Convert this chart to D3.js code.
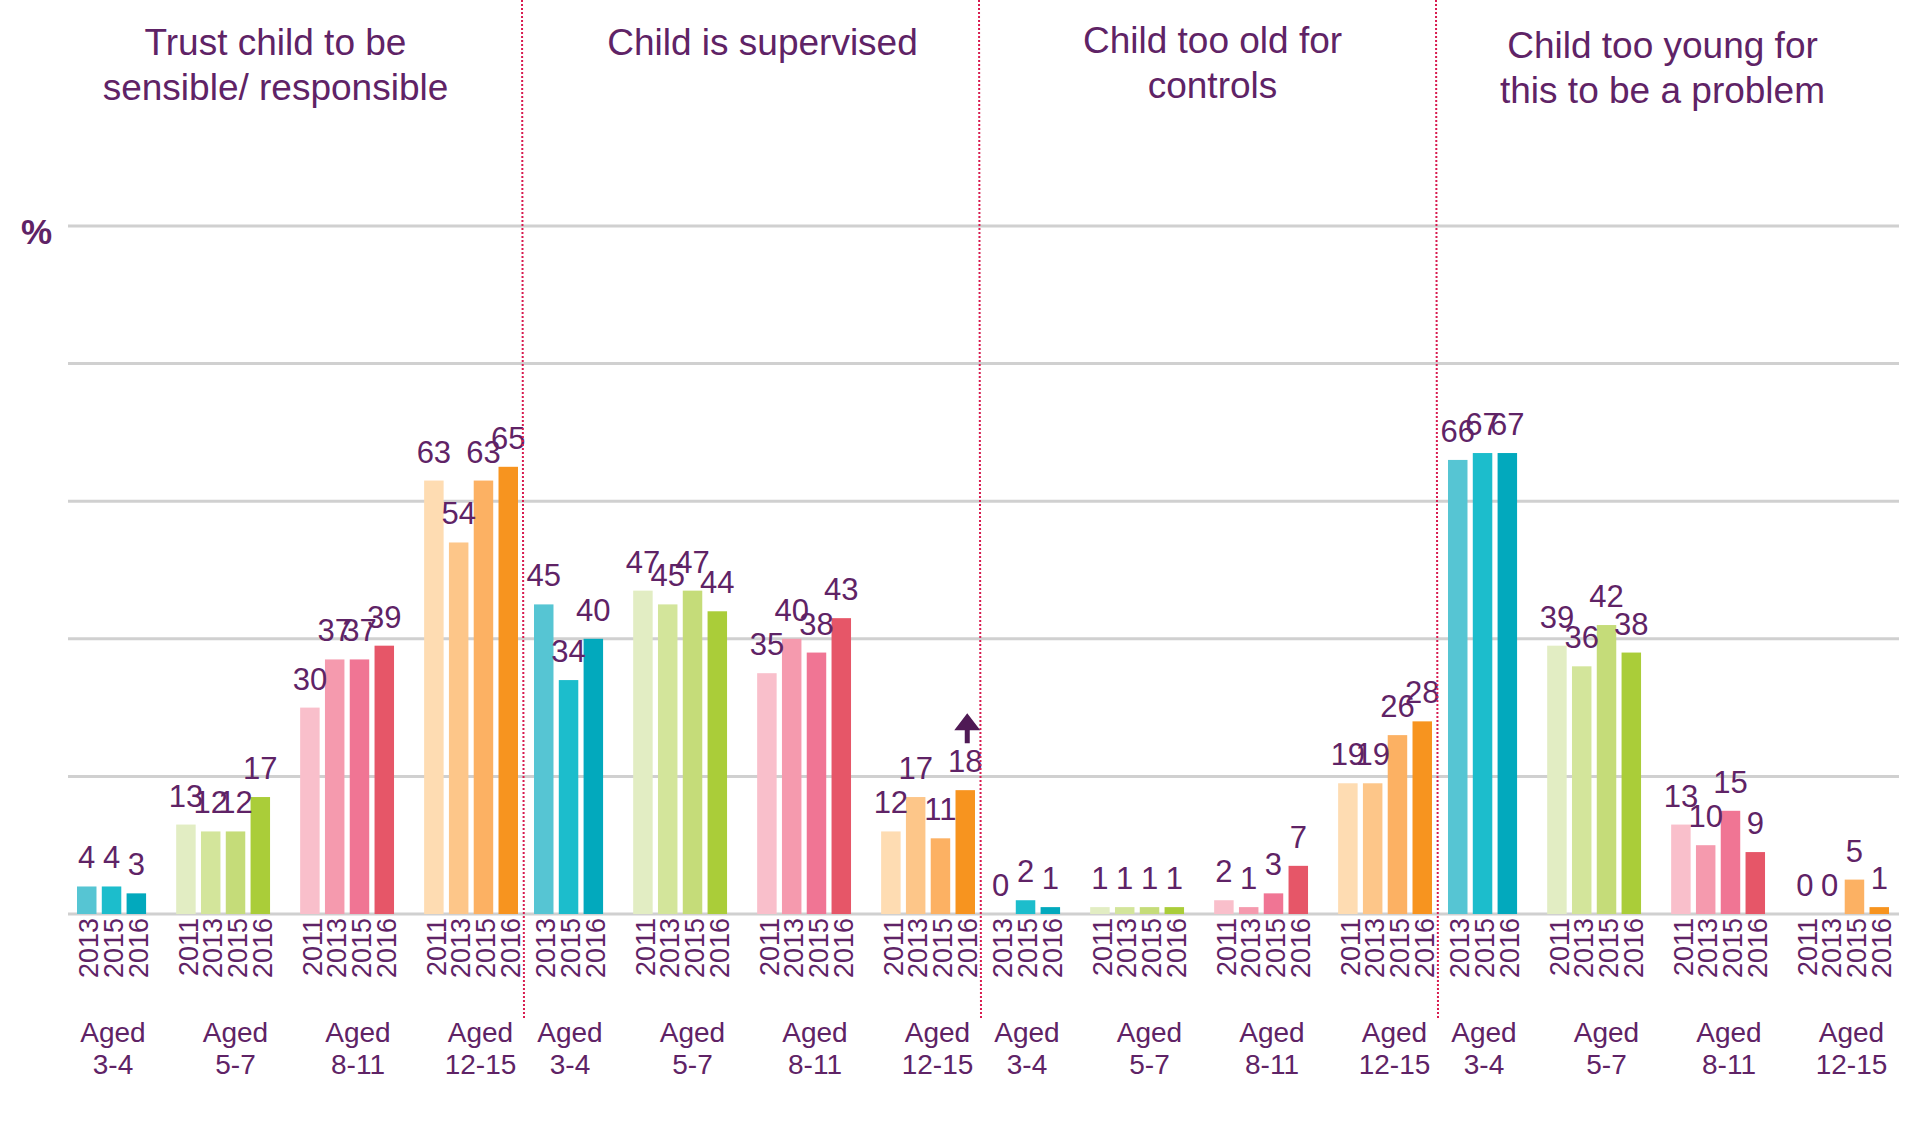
<!DOCTYPE html>
<html>
<head>
<meta charset="utf-8">
<script src="https://cdn.jsdelivr.net/npm/d3@7"></script>
<style>
  body { margin: 0; background: #fff; }
  text { font-family: "Liberation Sans", Arial, sans-serif; fill: #5f2366; }
</style>
</head>
<body>
<div class="plot"></div>
<script>
// data
var titles = [
  ["Trust child to be", "sensible/ responsible"],
  ["Child is supervised"],
  ["Child too old for", "controls"],
  ["Child too young for", "this to be a problem"]
];
var ageGroups = ["3-4", "5-7", "8-11", "12-15"];
var groupYears = [
  ["2013", "2015", "2016"],
  ["2011", "2013", "2015", "2016"],
  ["2011", "2013", "2015", "2016"],
  ["2011", "2013", "2015", "2016"]
];
var trustValues = [[4, 4, 3], [13, 12, 12, 17], [30, 37, 37, 39], [63, 54, 63, 65]];
var supervisedValues = [[45, 34, 40], [47, 45, 47, 44], [35, 40, 38, 43], [12, 17, 11, 18]];
var tooOldValues = [[0, 2, 1], [1, 1, 1, 1], [2, 1, 3, 7], [19, 19, 26, 28]];
var tooYoungValues = [[66, 67, 67], [39, 36, 42, 38], [13, 10, 15, 9], [0, 0, 5, 1]];
var panelValues = [trustValues, supervisedValues, tooOldValues, tooYoungValues];
var yTicks = [0, 20, 40, 60, 80, 100];
// the 2016 rise that gets an arrow: panel, group, year index
var arrowMark = { panel: 1, group: 3, year: 3 };

var groupColors = [
  ["#56c5d3", "#1cbdcc", "#02a9bd"],
  ["#e2edc3", "#d3e59b", "#c5dc79", "#aacd39"],
  ["#f9bfcb", "#f59aae", "#f07594", "#e65668"],
  ["#fedcb2", "#fdc689", "#fcb163", "#f7941f"]
];

// layout
var W = 1917, H = 1124;
var titleNudge = [[-19, 0], [11, 0], [4, -2], [-3, 3]];

var svg = d3.select(".plot").append("svg")
  .attr("width", W)
  .attr("height", H);

var y = d3.scaleLinear().domain([0, 100]).range([914, 226]);

var panelX = d3.scaleBand().domain(d3.range(4)).range([66, 66 + 4 * 457]);

var slot = d3.scaleBand().domain(d3.range(18))
  .range([11, 452])
  .paddingInner(0.214)
  .paddingOuter(0);

var labelX = d3.scalePoint().domain(ageGroups).range([47, 47 + 3 * 122.5]);

// grid lines
svg.append("g").selectAll("line")
  .data(yTicks)
  .enter()
  .append("line")
  .attr("x1", 68)
  .attr("x2", 1899)
  .attr("y1", function(d) { return y(d); })
  .attr("y2", function(d) { return y(d); })
  .style("stroke", "#d0d0d0")
  .style("stroke-width", 3);

svg.append("text")
  .attr("x", 21)
  .attr("y", 244)
  .style("font-size", "35px")
  .style("font-weight", "bold")
  .text("%");

// flatten bars
var bars = [];
panelValues.forEach(function(groups, p) {
  var start = 0;
  groups.forEach(function(vals, g) {
    vals.forEach(function(v, k) {
      bars.push({
        panel: p, group: g, year: k,
        label: groupYears[g][k],
        value: v,
        slot: start + k,
        color: groupColors[g][k]
      });
    });
    start += vals.length + 1;
  });
});

function barLeft(d) { return panelX(d.panel) + slot(d.slot); }
function barMid(d) { return barLeft(d) + slot.bandwidth() / 2; }

svg.append("g").selectAll("rect")
  .data(bars)
  .enter()
  .append("rect")
  .attr("x", barLeft)
  .attr("y", function(d) { return y(d.value); })
  .attr("width", slot.bandwidth())
  .attr("height", function(d) { return y(0) - y(d.value); })
  .style("fill", function(d) { return d.color; });

// value labels
svg.append("g").selectAll("text")
  .data(bars)
  .enter()
  .append("text")
  .attr("x", barMid)
  .attr("y", function(d) { return y(d.value) - 18; })
  .style("text-anchor", "middle")
  .style("font-size", "31px")
  .text(function(d) { return d.value; });

// year labels
svg.append("g").selectAll("text")
  .data(bars)
  .enter()
  .append("text")
  .attr("transform", function(d) {
    return "translate(" + (barMid(d) + 2) + "," + (y(0) + 4) + ") rotate(-90)";
  })
  .attr("dy", "0.36em")
  .style("text-anchor", "end")
  .style("font-size", "27px")
  .text(function(d) { return d.label; });

// age group labels
var groupLabels = [];
d3.range(4).forEach(function(p) {
  ageGroups.forEach(function(a) { groupLabels.push({ panel: p, age: a }); });
});
var gl = svg.append("g").selectAll("text")
  .data(groupLabels)
  .enter()
  .append("text")
  .attr("x", function(d) { return panelX(d.panel) + labelX(d.age); })
  .attr("y", 1042)
  .style("text-anchor", "middle")
  .style("font-size", "28px");
gl.append("tspan")
  .attr("x", function(d) { return panelX(d.panel) + labelX(d.age); })
  .text("Aged");
gl.append("tspan")
  .attr("x", function(d) { return panelX(d.panel) + labelX(d.age); })
  .attr("dy", 32)
  .text(function(d) { return d.age; });

// panel titles
titles.forEach(function(lines, p) {
  var cx = panelX(p) + panelX.bandwidth() / 2 + titleNudge[p][0];
  lines.forEach(function(t, i) {
    svg.append("text")
      .attr("x", cx)
      .attr("y", 55 + titleNudge[p][1] + i * 45)
      .style("text-anchor", "middle")
      .style("font-size", "37px")
      .text(t);
  });
});

// dotted separators
svg.append("g").selectAll("line")
  .data([1, 2, 3])
  .enter()
  .append("line")
  .attr("x1", function(d) { return panelX(d) - 1; })
  .attr("x2", function(d) { return panelX(d) + 1; })
  .attr("y1", 0)
  .attr("y2", 1018)
  .style("stroke", "#d81b4f")
  .style("stroke-width", 2)
  .style("stroke-dasharray", "2,2");

// arrow above the marked bar
var ab = bars.filter(function(d) {
  return d.panel === arrowMark.panel && d.group === arrowMark.group && d.year === arrowMark.year;
})[0];
var ax = barMid(ab) + 2, tipY = y(ab.value) - 77;
svg.append("path")
  .attr("d", "M" + ax + "," + tipY +
    " L" + (ax + 13) + "," + (tipY + 17) +
    " L" + (ax + 2.5) + "," + (tipY + 17) +
    " L" + (ax + 2.5) + "," + (tipY + 30) +
    " L" + (ax - 2.5) + "," + (tipY + 30) +
    " L" + (ax - 2.5) + "," + (tipY + 17) +
    " L" + (ax - 13) + "," + (tipY + 17) + " Z")
  .style("fill", "#4f1a55");
</script>
</body>
</html>
